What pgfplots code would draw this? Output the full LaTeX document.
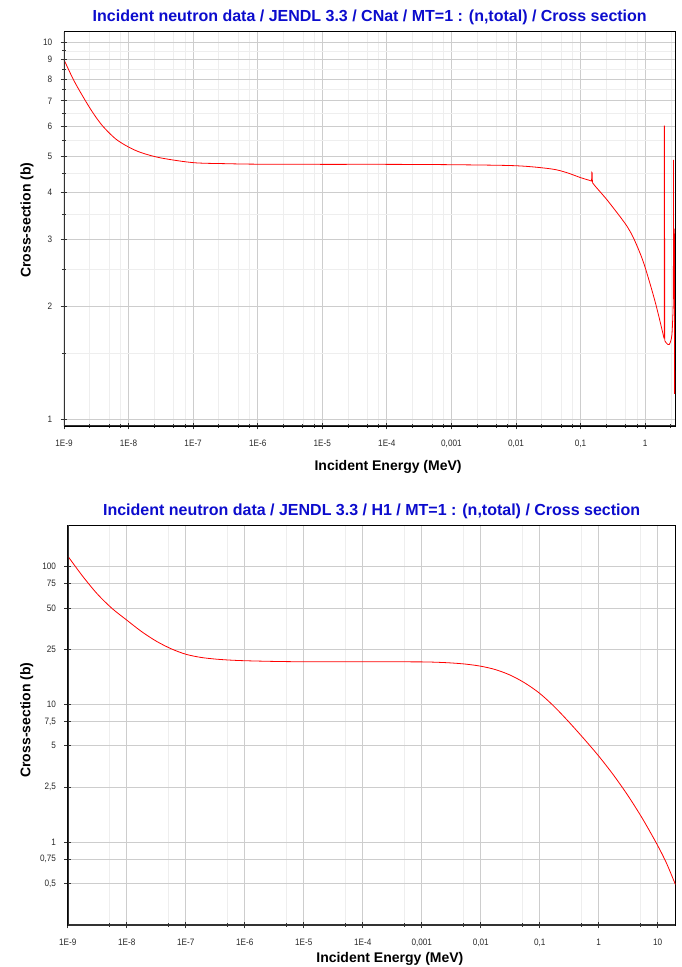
\documentclass[border=0pt]{standalone}
\usepackage{pgfplots}
\pgfplotsset{compat=1.18}
\usepackage{fontspec}
\setmainfont{Liberation Sans}
\newfontfamily\tickfont[FakeStretch=0.88]{Liberation Sans}
\definecolor{ttl}{RGB}{12,12,205}
\definecolor{gmaj}{RGB}{205,205,205}
\definecolor{gmin}{RGB}{238,238,238}
\definecolor{axc}{RGB}{50,50,50}
\definecolor{tcol}{RGB}{40,40,40}
\definecolor{curve}{RGB}{255,0,0}

\pgfplotsset{
 every axis/.append style={
  scale only axis, anchor=south west,
  axis line style={line width=0.9pt, black},
  grid=both,
  major grid style={line width=0.9pt, gmaj},
  minor grid style={line width=0.7pt, gmin},
  tick pos=left,
  tick align=center,
  major tick length=6.6pt,
  minor tick length=4pt,
  tick style={line width=0.9pt, axc},
  ticklabel style={font=\tickfont\fontsize{9.3}{10}\selectfont, text=tcol},
  xticklabel style={yshift=-7pt},
  yticklabel style={xshift=-5pt},
  title style={font=\bfseries\fontsize{16}{18}\selectfont, text=ttl, at={(0.5,1)}, anchor=base, yshift=4pt},
  label style={font=\bfseries\fontsize{14}{16}\selectfont, text=black},
 }
}

\begin{document}
\begin{tikzpicture}
\useasboundingbox (0pt,0pt) rectangle (681pt,967pt);

% ---------------- Top: CNat ----------------
\begin{loglogaxis}[
  at={(64pt,541pt)}, width=611.5pt, height=394.3pt,
  xmin=1e-9, xmax=2.95, ymin=0.961, ymax=10.68,
  xtick={1e-9,1e-8,1e-7,1e-6,1e-5,1e-4,1e-3,1e-2,1e-1,1},
  xticklabels={1E-9,1E-8,1E-7,1E-6,1E-5,1E-4,{0,001},{0,01},{0,1},1},
  minor xtick={2.5e-9,5e-9,7.5e-9,2.5e-8,5e-8,7.5e-8,2.5e-7,5e-7,7.5e-7,2.5e-6,5e-6,7.5e-6,2.5e-5,5e-5,7.5e-5,2.5e-4,5e-4,7.5e-4,2.5e-3,5e-3,7.5e-3,2.5e-2,5e-2,7.5e-2,0.25,0.5,0.75,2.5},
  ytick={1,2,3,4,5,6,7,8,9,10},
  yticklabels={1,2,3,4,5,6,7,8,9,10},
  minor ytick={1.5,2.5,3.5,4.5,5.5,6.5,7.5,8.5,9.5},
  title={Incident neutron data / JENDL 3.3 / CNat / MT=1 : (n,total) / Cross section},
  xlabel={Incident Energy (MeV)},
  ylabel={Cross-section (b)},
  xlabel style={at={(axis description cs:0.53,0)}, anchor=base, yshift=-45pt},
  ylabel style={at={(axis description cs:-0.0605,0.522)}, anchor=center},
]
\addplot[curve, line width=0.8pt, smooth] coordinates {
(1e-9,9.0) (1.41e-9,7.95) (2e-9,7.15) (2.82e-9,6.5) (3.98e-9,6.0) (6.3e-9,5.55)
(1e-8,5.28) (1.58e-8,5.10) (3.16e-8,4.94) (1e-7,4.80) (3.16e-7,4.77) (1e-6,4.755)
(1e-5,4.75) (1e-4,4.75) (1e-3,4.74) (0.01,4.71) (0.035,4.62) (0.06,4.52) (0.1,4.38) (0.13,4.32) (0.148,4.29)
};
\addplot[curve, line width=0.8pt] coordinates {
(0.148,4.29) (0.1495,4.52) (0.151,4.51) (0.1525,4.25)
};
\addplot[curve, line width=0.8pt, smooth] coordinates {
(0.1525,4.25) (0.17,4.15) (0.2,4.02) (0.255,3.83) (0.33,3.62) (0.42,3.43) (0.52,3.26) (0.63,3.08) (0.74,2.9)
(0.87,2.71) (1.0,2.53) (1.2,2.28) (1.43,2.05) (1.65,1.86) (1.81,1.74) (1.9,1.68) (1.95,1.65) (1.975,1.64)
};
\addplot[curve, line width=0.8pt] coordinates {
(1.975,1.64) (1.985,6.0) (1.995,6.0) (2.005,1.62)
};
\addplot[curve, line width=0.8pt, smooth] coordinates {
(2.005,1.62) (2.1,1.6) (2.25,1.58) (2.36,1.58) (2.5,1.62) (2.6,1.68) (2.68,1.87) (2.72,2.02) (2.735,2.1)
};
\addplot[curve, line width=0.8pt] coordinates {
(2.735,2.1) (2.745,4.88) (2.755,2.2) (2.8,2.5) (2.83,3.21) (2.845,2.4) (2.86,1.17) (2.88,1.3)
};
\draw[line width=1.8pt, axc] (rel axis cs:0,1) -- (rel axis cs:0,0) -- (rel axis cs:1,0);
\end{loglogaxis}

% ---------------- Bottom: H1 ----------------
\begin{loglogaxis}[
  at={(67.8pt,42pt)}, width=607.7pt, height=400pt,
  xmin=1e-9, xmax=20, ymin=0.25, ymax=200,
  xtick={1e-9,1e-8,1e-7,1e-6,1e-5,1e-4,1e-3,1e-2,1e-1,1,10},
  xticklabels={1E-9,1E-8,1E-7,1E-6,1E-5,1E-4,{0,001},{0,01},{0,1},1,10},
  minor xtick={5e-9,5e-8,5e-7,5e-6,5e-5,5e-4,5e-3,5e-2,0.5,5},
  ytick={0.5,0.75,1,2.5,5,7.5,10,25,50,75,100},
  yticklabels={{0,5},{0,75},1,{2,5},5,{7,5},10,25,50,75,100},
  minor ytick={},
  title={Incident neutron data / JENDL 3.3 / H1 / MT=1 : (n,total) / Cross section},
  xlabel={Incident Energy (MeV)},
  ylabel={Cross-section (b)},
  xlabel style={at={(axis description cs:0.53,0)}, anchor=base, yshift=-37pt},
  ylabel style={at={(axis description cs:-0.0675,0.5125)}, anchor=center},
]
\addplot[curve, line width=0.8pt, smooth] coordinates {
(1e-9,119) (1.778e-9,85.2) (3.162e-9,63.2) (5.623e-9,49.6) (1e-8,40.8)
(1.778e-8,33.7) (3.162e-8,28.7) (5.623e-8,25.3) (1e-7,23.07) (1.778e-7,21.9)
(3.162e-7,21.28) (5.623e-7,20.92) (1e-6,20.70) (3.162e-6,20.46) (1e-5,20.35)
(1e-4,20.33) (3.162e-4,20.32) (1e-3,20.30) (1.778e-3,20.18) (3.162e-3,19.95)
(5.623e-3,19.55) (0.01,18.89) (0.01778,17.84) (0.03162,16.27) (0.05623,14.25)
(0.1,11.99) (0.1778,9.58) (0.3162,7.39) (0.5623,5.61) (1,4.205) (1.778,3.064)
(3.162,2.157) (5.623,1.458) (10,0.941) (14.13,0.70) (20,0.49)
};
\draw[line width=1.8pt, axc] (rel axis cs:0,1) -- (rel axis cs:0,0) -- (rel axis cs:1,0);
\end{loglogaxis}
\end{tikzpicture}
\end{document}
